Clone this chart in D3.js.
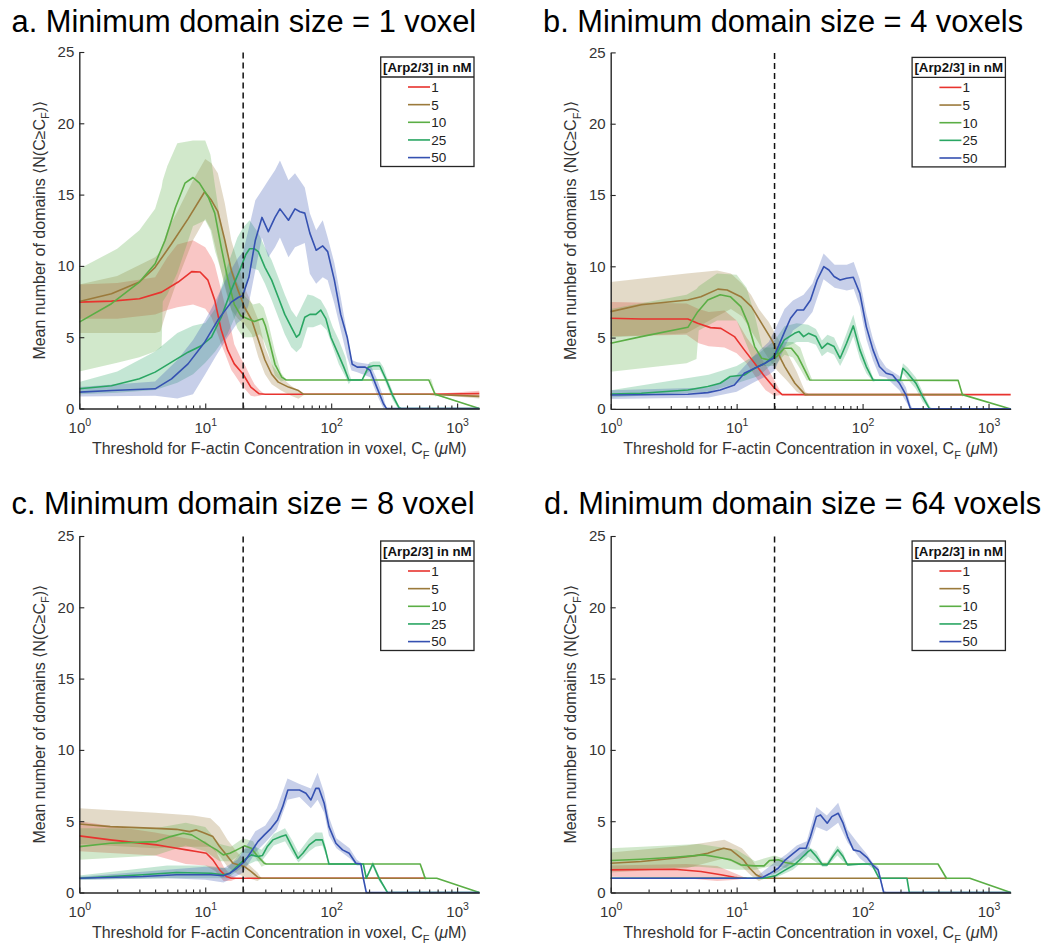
<!DOCTYPE html>
<html><head><meta charset="utf-8">
<script src="https://cdn.jsdelivr.net/npm/d3@7"></script>
<style>
body{margin:0;background:#fff}
svg{display:block;font-family:"Liberation Sans",Arial,Helvetica,sans-serif}
</style>
</head><body>
<svg id="chart" width="1046" height="945"></svg>
<script>
// ---- Series metadata ----
const seriesNames  = ["1", "5", "10", "25", "50"];          // [Arp2/3] in nM
const seriesColors = ["#e8332e", "#9b7a3b", "#5bae45", "#2aa663", "#3551b1"];
const xTickValues  = [1, 10, 100, 1000];
const xTickExponents = ["0", "1", "2", "3"];
const yTickValues  = [0, 5, 10, 15, 20, 25];
const xDomain = [1, 1500];
const yDomain = [0, 25];
const thresholdLine = 20;   // µM
const panelTitles = [
  "a. Minimum domain size = 1 voxel",
  "b. Minimum domain size = 4 voxels",
  "c. Minimum domain size = 8 voxel",
  "d. Minimum domain size = 64 voxels"
];

// ---- Panel a: minimum domain size 1 voxel ---- mean: [C_F, N]; band: [C_F, low, high]
const a1_mean = [[1,7.46],[1.8,7.53],[3,7.7],[4.5,8.16],[6.1,8.87],[7.8,9.6],[9.1,9.57],[10.5,9.0],[11.9,7.6],[13.4,5.5],[15.1,4.07],[17,3.13],[20,2.4],[23,1.5],[26.8,1.03],[30,1.0],[600,1.0],[1500,1.05]];
const a1_band = [[1,6.3,8.7],[2,6.3,8.8],[4,6.6,9.2],[5,6.9,10.6],[6,7.1,11.5],[8,7.3,11.8],[10,7.0,11.3],[11.2,6.4,10.6],[11.9,5.8,10.1],[13.4,4.5,8.3],[14.3,3.9,7.3],[16.1,2.7,5.5],[17,2.4,4.5],[19.2,1.7,3.5],[20.5,1.4,3.1],[23,0.9,2.2],[24.6,0.85,1.7],[27,0.9,1.3],[29.5,1,1],[600,1,1],[1500,0.85,1.25]];
const a2_mean = [[1,7.5],[1.8,8.05],[3,8.87],[4,9.9],[5.4,11.55],[7.3,13.3],[9.9,15.2],[11.2,14.6],[12.6,13.8],[14.3,11.8],[16.1,9.7],[18.2,8.3],[20.5,7.1],[23.4,6.2],[26.4,4.8],[29.8,3.4],[33.7,2.4],[38,1.85],[45.8,1.5],[55,1.26],[60,1.0],[600,1.0],[1500,0.85]];
const a2_band = [[1,5.3,8.7],[2,5.3,9.3],[4,5.3,10.6],[4.4,5.4,11],[5,7.0,12.5],[6,9,13.8],[8,11.8,16.0],[10,13.3,17.5],[11.2,12.5,17.2],[12.6,10.6,16.5],[14.3,8.5,14.4],[16.1,6.9,11.8],[18.2,6.3,10.2],[20.5,5.9,8.5],[23.4,5.2,7.35],[26.4,3.6,6.2],[29.8,2.4,4.3],[33.7,1.7,3.1],[40,1.26,2.2],[48,0.9,1.6],[55,0.68,1.26],[62,1,1],[600,1,1],[1500,0.7,1.0]];
const a3_mean = [[1,6.06],[1.8,7.35],[3,8.87],[4,10.15],[4.8,11.8],[5.8,14.1],[6.9,15.8],[8,16.2],[9,15.8],[10.6,14.8],[11.9,13.7],[13.4,11.3],[15,9.2],[17,7.3],[19.2,6.5],[21.7,6.3],[24.6,6.1],[26.4,6.2],[28.5,6.3],[30,5.8],[31.7,5.0],[35.8,3.1],[40.5,2.2],[43.9,2.0],[596,2.0],[668,1.0],[1500,0]];
const a3_band = [[1,2.6,9.8],[2,3.2,11.2],[3,3.6,12.5],[4,4.0,14],[4.5,4.3,15.5],[4.6,7.5,16],[5,8,17],[6,9.5,18.6],[8,12.8,18.8],[10,13.2,18.8],[11,12.5,17.8],[12,11,15.5],[13,10,13.5],[14,9,12.0],[16,7,10.0],[18,5.6,8.8],[20,5.0,8.0],[24,5.0,7.3],[27,5.2,7.4],[29,4.8,7.1],[31.7,3.9,6.0],[35.8,2.3,4.0],[40,1.9,2.5],[44,2,2],[596,2,2],[620,1.7,2.1],[668,0.85,1.15],[700,0.9,1.0],[1500,0,0]];
const a4_mean = [[1,1.38],[1.8,1.6],[3,2.08],[4,2.55],[5.4,3.25],[7.3,3.95],[9.3,4.4],[11.2,5.0],[13.4,6.4],[16.1,8.3],[19.2,9.9],[21,10.8],[22.5,11.2],[24.6,11.2],[26.4,11.0],[29.8,9.9],[33.7,9.0],[38,7.8],[42.8,6.6],[48.2,5.7],[53,5.0],[56,5.2],[61.7,6.4],[67.8,6.6],[75.5,6.6],[82.7,6.9],[90.7,6.3],[99.5,5.0],[112,3.95],[126,2.9],[138,2.0],[176,2.0],[197,2.9],[216,3.0],[243,3.0],[274,2.0],[308,0.9],[346,0.05],[360,0],[1500,0]];
const a4_band = [[1,1.0,1.85],[2,1.1,2.6],[4,1.3,4.0],[6,1.8,5.3],[8,2.4,5.8],[10,3.2,6.0],[12,4.0,7.0],[15,5.2,10.0],[18,6.8,12.0],[20,7.35,12.7],[22.5,9.9,13.2],[26.4,9.7,12.3],[29.8,8.75,11.3],[33.7,7.6,10.4],[38,6.4,9.2],[42.8,5.2,8.0],[48.2,4.3,6.9],[53,3.95,6.4],[58,4.3,7.1],[65,5.7,8.0],[72,5.7,7.9],[82.7,5.9,7.6],[92,5.5,6.9],[103,4.3,5.7],[115,3.1,4.8],[130,2.2,3.6],[138,1.7,2.5],[145,2,2],[176,2,2],[190,2.4,2.7],[200,2.6,3.2],[216,2.7,3.3],[243,2.7,3.3],[260,2.2,2.9],[274,1.7,2.3],[308,0.6,1.2],[340,0,0.3],[360,0,0],[1500,0,0]];
const a5_mean = [[1,1.15],[1.8,1.26],[4,1.38],[5.4,2.08],[7.3,3.13],[9.9,4.65],[12.6,6.2],[16.1,7.46],[18.4,7.8],[19.8,7.9],[22.2,9.2],[25,11.8],[28.2,13.4],[31.7,12.4],[35.8,13.4],[39.2,14.0],[45.8,13.2],[51.6,14.0],[56.5,13.8],[61.7,13.7],[67.7,12.3],[76,11.1],[85.7,11.4],[93.8,11.0],[106,9.0],[119,6.6],[134,5.0],[147,3.1],[161,2.9],[186,2.9],[204,2.67],[230,1.5],[260,0.33],[275,0],[1500,0]];
const a5_band = [[1,0.85,1.5],[4,0.9,1.9],[6,0.7,3.4],[8,1.0,4.8],[10,2.4,6.2],[12,3.6,7.5],[15,5.0,9.3],[18,6.0,10.5],[20,6.3,11.0],[22,7.2,12.5],[25,9.7,14.6],[28.2,12.0,15.3],[31.7,10.6,16.0],[35.8,11.3,16.7],[39.2,12.0,17.4],[45.8,10.6,16.0],[51.6,11.3,16.5],[61.7,11.6,15.5],[67.7,9.45,13.7],[76,8.75,12.5],[85.7,9.2,13.2],[93.8,9.0,12.0],[106,7.35,10.2],[119,5.5,7.8],[134,3.6,5.2],[145,2.67,3.4],[161,2.55,3.25],[204,2.2,3.1],[230,1.0,2.1],[260,0,0.8],[275,0,0],[1500,0,0]];

// ---- Panel b: minimum domain size 4 voxels ----
const b1_mean = [[1,6.36],[1.75,6.3],[4.1,6.3],[4.9,6.0],[6.2,5.7],[7.5,5.65],[9.6,5.07],[11.5,4.14],[13.9,3.2],[16.7,2.27],[20,1.45],[23,1.0],[1500,1.0]];
const b1_band = [[1,5.1,7.5],[4,5.2,7.4],[5,4.6,7.0],[6,4.4,6.8],[8,4.3,6.9],[10,3.9,6.2],[12,3.2,5.0],[14,2.3,4.2],[17,1.3,3.1],[20,0.9,2.0],[23,1,1],[1500,1,1]];
const b2_mean = [[1,6.82],[1.75,7.3],[4.1,7.64],[5.2,7.87],[7.1,8.4],[8.4,8.34],[10.8,7.87],[13.1,7.17],[15.8,6.0],[19,4.84],[21.3,3.9],[24.1,2.97],[29,1.8],[35,1.0],[620,1.0]];
const b2_band = [[1,5.0,8.9],[4,5.3,9.5],[7,6.5,9.7],[9,7.0,9.5],[11,6.5,8.8],[13,5.5,8.0],[15,4.6,7.0],[18,3.5,6.1],[21,2.7,5.0],[25,2.0,4.0],[30,1.2,2.6],[35,0.9,1.2],[38,1,1],[620,1,1]];
const b3_mean = [[1,4.6],[1.75,5.07],[4.1,5.72],[4.9,6.8],[5.9,7.64],[7.4,8.0],[8.9,7.87],[10.8,7.17],[12.3,6.0],[13.9,4.37],[15.8,3.55],[18.3,3.43],[20.8,3.67],[23.9,4.25],[27.2,4.25],[30.7,3.67],[34.7,2.73],[38,2.03],[574,2.0],[620,1.0],[1500,0]];
const b3_band = [[1,2.6,7.0],[4,3.2,8.0],[4.8,3.5,8.4],[5,5.5,8.6],[7,6.2,9.5],[10,6.2,9.4],[12,4.5,8.5],[14,3.0,6.5],[16,3.0,4.3],[20,3.0,4.3],[24,3.8,4.7],[28,3.6,4.7],[32,2.8,4.3],[36,2.0,3.0],[40,2,2],[574,2,2],[620,0.85,1.15],[650,1,1],[1500,0,0]];
const b4_mean = [[1,1.05],[1.75,1.1],[4.1,1.33],[5.9,1.57],[7.4,1.8],[8.9,2.27],[11.5,2.38],[13.9,2.85],[16.8,3.2],[20.8,3.9],[23.9,4.84],[28.8,5.3],[31.3,5.42],[34,5.07],[37.2,5.3],[42.6,5.07],[47.5,4.25],[52.6,4.6],[59.4,4.37],[66.3,3.55],[74.6,4.6],[84.4,5.82],[95.2,4.14],[107,2.97],[121,2.03],[199,2.0],[209,2.85],[228,2.5],[265,1.8],[300,0.86],[340,0],[1500,0]];
const b4_band = [[1,0.8,1.3],[6,1.2,2.4],[10,1.8,3.0],[15,2.3,3.9],[20,3.3,4.8],[24,4.3,5.8],[30,4.7,6.0],[37,4.7,5.9],[42.6,4.5,5.6],[47.5,3.7,4.8],[52.6,4.0,5.2],[59.4,3.8,5.0],[66.3,3.0,4.1],[74.6,3.9,5.3],[84.4,5.1,6.6],[95.2,3.5,4.8],[107,2.5,3.5],[121,1.9,2.2],[130,2,2],[199,2,2],[209,2.5,3.2],[228,2.1,2.9],[265,1.4,2.2],[300,0.5,1.2],[340,0,0.2],[360,0,0],[1500,0,0]];
const b5_mean = [[1,0.98],[4.1,1.03],[5.9,1.14],[7.4,1.33],[9.6,1.68],[11.5,2.5],[13.9,2.85],[16.8,3.2],[19.5,3.55],[21.4,4.37],[24.4,5.54],[26.8,6.36],[30.2,6.94],[34,6.94],[38.6,7.64],[43.6,9.04],[49.2,9.98],[54,9.74],[59.4,9.28],[66.3,9.04],[74.6,9.16],[84.4,9.23],[95.2,8.1],[107,5.77],[121,4.14],[136,2.97],[154,2.5],[173,2.38],[196,1.8],[221,0.98],[240,0],[1500,0]];
const b5_band = [[1,0.7,1.3],[6,0.8,1.5],[10,1.2,2.4],[14,1.9,3.8],[18,2.4,4.7],[20,2.7,5.5],[24,4.3,7.0],[28,5.5,7.6],[34,6.0,8.0],[40,6.8,8.8],[49,9.1,10.9],[60,8.5,10.1],[75,8.3,10.1],[85,8.4,10.3],[95,7.2,9.1],[107,4.9,6.7],[121,3.4,4.9],[136,2.3,3.6],[154,2.2,2.9],[196,1.3,2.3],[221,0.5,1.5],[240,0,0.3],[250,0,0],[1500,0,0]];

// ---- Panel c: minimum domain size 8 voxels ----
const c1_mean = [[1,3.97],[1.76,3.69],[4.1,3.34],[4.9,3.22],[7.1,2.99],[8.5,2.87],[10.2,2.75],[11.5,2.29],[13,1.59],[14.7,1.12],[16.1,1.0],[560,1.0]];
const c1_band = [[1,2.9,5.0],[4,2.6,4.2],[7,2.0,3.8],[10,1.9,3.6],[12,1.5,3.0],[14,0.8,1.8],[16,0.8,1.2],[18,1,1],[560,1,1]];
const c2_mean = [[1,4.8],[1.76,4.62],[4.1,4.5],[5.9,4.43],[7.5,4.27],[8.5,4.39],[9.6,4.2],[11.5,3.92],[13,3.22],[14.7,2.64],[16.6,2.05],[20.5,1.82],[23.2,1.47],[26.2,1.07],[28,1.0],[560,1.0]];
const c2_band = [[1,3.4,5.9],[4,3.1,5.6],[8,3.2,5.4],[11,3.2,5.2],[13,2.6,4.6],[15,1.8,3.7],[18,1.3,2.8],[22,1.0,2.0],[26,0.8,1.4],[28,1,1],[560,1,1]];
const c3_mean = [[1,3.22],[1.76,3.45],[4.1,3.57],[5.3,3.92],[6.7,4.15],[7.8,4.04],[9.1,3.69],[11.1,3.22],[12.3,2.99],[13.9,2.64],[15.7,2.75],[17.8,2.99],[20.5,3.27],[23.2,3.1],[26.2,2.52],[29.4,2.05],[30.5,2.0],[509,2.0],[557,1.0],[689,1.0],[1500,0]];
const c3_band = [[1,2.3,4.5],[4,2.6,4.5],[7,3.3,4.9],[10,2.9,4.6],[13,2.2,3.4],[16,2.2,3.2],[20,2.8,3.8],[24,2.7,3.6],[28,1.8,2.4],[31,2,2],[509,2,2],[540,1.2,1.6],[557,0.85,1.15],[580,1,1],[689,1,1],[1500,0,0]];
const c4_mean = [[1,1.0],[3.2,1.24],[5.9,1.4],[11.1,1.35],[13.9,1.24],[15.7,1.35],[17.8,1.82],[20.5,2.3],[23.2,2.64],[26.2,2.52],[28.5,2.6],[31,3.2],[34.4,3.69],[40,3.92],[43.7,4.04],[49.5,3.1],[54.5,2.4],[59.6,2.75],[67,3.34],[75.5,3.69],[85,3.69],[90,2.99],[96,2.0],[180,2.0],[190,1.0],[214,2.0],[240,1.0],[280,0],[1500,0]];
const c4_band = [[1,0.9,1.2],[5,1.0,1.9],[10,1.0,1.9],[15,1.0,1.7],[20,1.8,3.0],[25,2.2,3.2],[28,2.2,3.0],[35,3.3,4.1],[43,3.6,4.5],[49.5,2.7,3.6],[55,2.1,2.8],[67,2.9,3.8],[75,3.2,4.2],[85,3.3,4.2],[90,2.7,3.3],[96,2,2],[180,2,2],[190,0.9,1.1],[214,1.8,2.2],[240,0.8,1.2],[280,0,0],[1500,0,0]];
const c5_mean = [[1,1.0],[3.2,1.12],[5.9,1.24],[11.1,1.24],[13.9,1.17],[15.7,1.35],[17.8,1.7],[20.5,2.17],[23.2,2.87],[26.2,3.57],[29.5,4.04],[33.3,4.5],[37.5,5.09],[41.2,6.02],[45.3,7.19],[49.6,7.19],[56,7.19],[63,6.96],[69,6.49],[75.5,7.3],[80,7.3],[88,6.26],[96,4.62],[109,3.45],[123,2.99],[139,2.75],[157,2.05],[172,2.0],[180,1.0],[190,0],[1500,0]];
const c5_band = [[1,0.9,1.1],[5,1.0,1.6],[10,0.9,1.8],[14,0.7,1.7],[18,1.2,2.3],[20,1.4,2.9],[25,2.8,4.3],[30,3.5,4.7],[37,4.4,5.9],[45,6.5,8.0],[56,6.7,7.6],[69,5.9,7.3],[78,6.5,8.4],[88,5.6,7.0],[96,4.0,5.3],[110,3.1,3.8],[140,2.4,3.1],[160,1.9,2.3],[172,1.9,2.1],[190,0,0],[1500,0,0]];

// ---- Panel d: minimum domain size 64 voxels ----
const d1_mean = [[1,1.59],[3.2,1.63],[5.2,1.47],[7.5,1.24],[9.6,1.07],[10.8,1.0],[12,1.0]];
const d1_band = [[1,1.1,1.9],[4,1.0,2.0],[7,0.8,1.85],[10,0.9,1.3],[12,1,1]];
const d2_mean = [[1,2.05],[1.75,2.17],[3.2,2.4],[4.6,2.57],[5.9,2.75],[7.1,2.99],[7.9,3.1],[9,2.99],[10.1,2.64],[11.3,2.29],[12.7,1.7],[14.3,1.24],[16.2,1.0],[463,1.0]];
const d2_band = [[1,1.4,2.8],[4,1.7,3.3],[8,2.4,3.7],[11,1.8,3.1],[13,1.2,2.4],[15,0.8,1.6],[17,1,1],[440,1,1],[463,0.85,1.15]];
const d3_mean = [[1,2.24],[1.75,2.33],[3.2,2.47],[5.5,2.64],[7.1,2.47],[9,2.29],[10.8,1.94],[13.8,1.87],[16.5,1.87],[18.2,2.24],[21.4,2.29],[24.4,2.1],[28,2.0],[397,2.0],[463,1.0],[710,1.0],[1500,0]];
const d3_band = [[1,1.6,3.1],[5,1.8,3.4],[10,1.6,3.0],[14,1.6,2.2],[20,1.9,2.6],[25,1.7,2.3],[30,2,2],[397,2,2],[463,1,1],[710,1,1],[1500,0,0]];
const d4_mean = [[1,1.0],[16.2,1.0],[20.3,1.17],[24.4,1.59],[28.7,1.94],[32.6,2.4],[36.9,2.87],[38.6,2.99],[43,2.52],[48,1.94],[52.4,1.94],[58,2.52],[63.5,2.99],[70,2.52],[76,1.94],[100,2.0],[118,2.0],[135,1.0],[225,1.0],[235,0],[1500,0]];
const d4_band = [[1,1,1],[16,1,1],[20,1.0,1.4],[28,1.6,2.3],[37,2.5,3.2],[43,2.1,2.9],[48,1.8,2.1],[52,1.8,2.1],[63,2.6,3.3],[70,2.2,2.8],[76,1.9,2.0],[100,2,2],[118,2,2]];
const d5_mean = [[1,1.0],[14.5,1.0],[16.2,1.07],[18.2,1.31],[21.4,1.7],[24.4,2.29],[28.2,2.75],[31.6,3.1],[35.6,3.1],[38.6,3.92],[43,5.32],[46.3,5.44],[52.4,4.86],[57,5.32],[64,5.56],[70,4.86],[76,3.92],[84.6,2.99],[95.5,2.87],[108,2.47],[120,1.94],[133,1.59],[147,0],[1500,0]];
const d5_band = [[1,0.95,1.05],[14,0.95,1.05],[20,1.3,2.1],[25,1.8,2.7],[30,2.3,3.3],[36,2.6,3.6],[43,4.6,6.0],[52,4.3,5.4],[64,4.9,6.3],[76,3.5,4.4],[95,2.4,3.3],[108,2.0,2.7],[120,1.7,2.1],[133,1.3,1.8],[147,0,0.2],[155,0,0],[1500,0,0]];

// ---- Layout ----
const W = 400, H = 356.5;
const panels = [
  {title: panelTitles[0], tx: 11.5, ty: 32.3, left: 79.3,  top: 52,  means: [a1_mean,a2_mean,a3_mean,a4_mean,a5_mean], bands: [a1_band,a2_band,a3_band,a4_band,a5_band]},
  {title: panelTitles[1], tx: 543,  ty: 32.3, left: 610.7, top: 52.4, means: [b1_mean,b2_mean,b3_mean,b4_mean,b5_mean], bands: [b1_band,b2_band,b3_band,b4_band,b5_band]},
  {title: panelTitles[2], tx: 11.5, ty: 514,  left: 79.3,  top: 536, means: [c1_mean,c2_mean,c3_mean,c4_mean,c5_mean], bands: [c1_band,c2_band,c3_band,c4_band,c5_band]},
  {title: panelTitles[3], tx: 544,  ty: 514,  left: 610.7, top: 536, means: [d1_mean,d2_mean,d3_mean,d4_mean,d5_mean], bands: [d1_band,d2_band,d3_band,d4_band,d5_band]}
];

const svg = d3.select("#chart");
const axisColor = "#262626";
const textColor = "#333";

const x = d3.scaleLog().domain(xDomain).range([0, W]);
const y = d3.scaleLinear().domain(yDomain).range([H, 0]);

// minor ticks of the log axis: 2..9 times each decade inside the domain
const minorTicks = [];
for (let dec = 1; dec <= 1000; dec *= 10)
  for (let m = 2; m <= 9; m++) if (m * dec <= xDomain[1]) minorTicks.push(m * dec);

const area = d3.area().x(d => x(d[0])).y0(d => y(d[1])).y1(d => y(d[2]));
const line = d3.line().x(d => x(d[0])).y(d => y(d[1]));

panels.forEach(p => {
  svg.append("text")
    .attr("x", p.tx).attr("y", p.ty)
    .attr("font-size", 30.8).attr("fill", "#000")
    .text(p.title);

  const g = svg.append("g").attr("transform", `translate(${p.left},${p.top})`);

  // shaded spread bands
  p.bands.forEach((b, i) => {
    g.append("path").datum(b)
      .attr("d", area)
      .attr("fill", seriesColors[i]).attr("fill-opacity", 0.28)
      .attr("stroke", "none");
  });
  // mean curves
  p.means.forEach((m, i) => {
    g.append("path").datum(m)
      .attr("d", line)
      .attr("fill", "none").attr("stroke", seriesColors[i])
      .attr("stroke-width", 1.6).attr("stroke-linejoin", "round");
  });

  // threshold marker
  g.append("line")
    .attr("x1", x(thresholdLine)).attr("x2", x(thresholdLine))
    .attr("y1", y(yDomain[0])).attr("y2", y(yDomain[1]))
    .attr("stroke", "#111").attr("stroke-width", 1.5)
    .attr("stroke-dasharray", "6,4");

  // x axis: major + minor inward ticks
  const gxMinor = g.append("g").attr("transform", `translate(0,${H})`)
    .call(d3.axisBottom(x).tickValues(minorTicks).tickSize(-3).tickSizeOuter(0).tickFormat(""));
  gxMinor.select(".domain").remove();
  gxMinor.selectAll("line").attr("stroke", axisColor).attr("stroke-width", 1.1);

  const gx = g.append("g").attr("transform", `translate(0,${H})`)
    .call(d3.axisBottom(x).tickValues(xTickValues).tickSize(-5).tickSizeOuter(0).tickFormat(""));
  gx.select(".domain").attr("stroke", axisColor).attr("stroke-width", 1.4);
  gx.selectAll("line").attr("stroke", axisColor).attr("stroke-width", 1.1);
  gx.selectAll(".tick").each(function(d, i) {
    const t = d3.select(this).append("text")
      .attr("y", 24).attr("text-anchor", "middle")
      .attr("fill", textColor).attr("font-size", 15);
    t.append("tspan").text("10");
    t.append("tspan").attr("dy", -7).attr("font-size", 10.5).text(xTickExponents[i]);
  });

  // y axis
  const gy = g.append("g")
    .call(d3.axisLeft(y).tickValues(yTickValues).tickSize(-5).tickSizeOuter(0).tickPadding(5));
  gy.select(".domain").attr("stroke", axisColor).attr("stroke-width", 1.4);
  gy.selectAll("line").attr("stroke", axisColor).attr("stroke-width", 1.1);
  gy.selectAll("text").attr("fill", textColor).attr("font-size", 15)
    .attr("font-family", "'Liberation Sans',Arial,sans-serif");

  // axis titles
  const xl = g.append("text")
    .attr("x", W / 2).attr("y", H + 45.5).attr("text-anchor", "middle")
    .attr("fill", textColor).attr("font-size", 16);
  xl.append("tspan").text("Threshold for F-actin Concentration in voxel, C");
  xl.append("tspan").attr("dy", 4.5).attr("font-size", 11).text("F");
  xl.append("tspan").attr("dy", -4.5).text(" (");
  xl.append("tspan").attr("font-style", "italic").text("μ");
  xl.append("tspan").text("M)");

  const yl = g.append("text")
    .attr("transform", `translate(-34.5,${H / 2}) rotate(-90)`)
    .attr("text-anchor", "middle")
    .attr("fill", textColor).attr("font-size", 16);
  yl.append("tspan").text("Mean number of domains ⟨N(C≥C");
  yl.append("tspan").attr("dy", 4.5).attr("font-size", 11).text("F");
  yl.append("tspan").attr("dy", -4.5).text(")⟩");

  // legend
  const lw = 93.3, lh = 109.5;
  const lg = g.append("g").attr("transform", `translate(${W - 5.3 - lw},5)`);
  lg.append("rect").attr("width", lw).attr("height", lh)
    .attr("fill", "#fff").attr("stroke", axisColor).attr("stroke-width", 1.3);
  lg.append("line").attr("x1", 0).attr("x2", lw).attr("y1", 20).attr("y2", 20)
    .attr("stroke", axisColor).attr("stroke-width", 1.3);
  lg.append("text").attr("x", lw / 2).attr("y", 14.8).attr("text-anchor", "middle")
    .attr("font-size", 13.3).attr("font-weight", "bold").attr("fill", "#111")
    .text("[Arp2/3] in nM");
  seriesNames.forEach((name, i) => {
    const ey = 30 + i * 17.65;
    lg.append("line").attr("x1", 27.3).attr("x2", 49.3).attr("y1", ey).attr("y2", ey)
      .attr("stroke", seriesColors[i]).attr("stroke-width", 1.6);
    lg.append("text").attr("x", 50.5).attr("y", ey).attr("dy", "0.36em")
      .attr("font-size", 13.5).attr("fill", "#222").text(name);
  });
});
</script>
</body></html>
